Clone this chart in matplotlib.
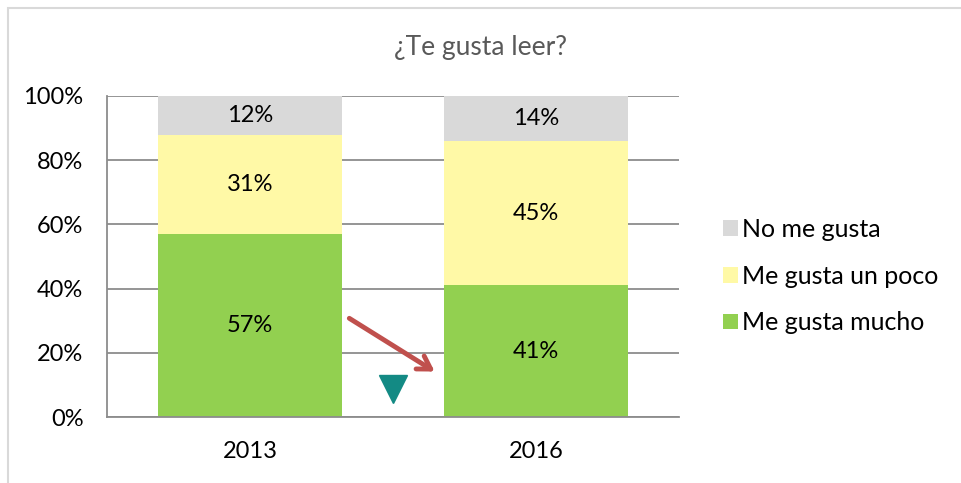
import matplotlib.pyplot as plt
from matplotlib.patches import Rectangle

plt.rcParams['font.family'] = ['Lato', 'DejaVu Sans']

years = ["2013", "2016"]
mucho = [57, 41]
poco = [31, 45]
no_gusta = [12, 14]
series_names = ["Me gusta mucho", "Me gusta un poco", "No me gusta"]
colors = ["#92D050", "#FFF9A6", "#D9D9D9"]

fig = plt.figure(figsize=(9.62, 4.83), dpi=100)
ax = fig.add_axes([107 / 962, 66 / 483, 572 / 962, 321 / 483])

# chart frame (cut off at right and bottom as in the source)
fig.patches.append(Rectangle((8 / 962, -0.05), 1.0, 1 - 8 / 483 + 0.05,
                             transform=fig.transFigure, fill=False,
                             edgecolor="#D9D9D9", linewidth=1.5))

x = range(len(years))
bottom = [0, 0]
for vals, name, col in zip([mucho, poco, no_gusta], series_names, colors):
    bars = ax.bar(x, vals, width=0.645, bottom=bottom, color=col, label=name, zorder=2)
    for xi, v, b in zip(x, vals, bottom):
        ax.text(xi, b + v / 2, f"{v}%", ha="center", va="center", fontsize=17, zorder=3)
    bottom = [b + v for b, v in zip(bottom, vals)]

ax.set_xlim(-0.5, 1.5)
ax.set_ylim(0, 100)
ax.set_yticks(range(0, 101, 20))
ax.set_yticklabels([f"{t}%" for t in range(0, 101, 20)], fontsize=17)
ax.set_xticks(list(x))
ax.set_xticklabels(years, fontsize=17)
ax.tick_params(length=0)
ax.tick_params(axis="x", pad=17)
ax.tick_params(axis="y", pad=17)
ax.yaxis.grid(True, color="#8C8C8C", linewidth=1.3, zorder=1)
ax.set_axisbelow(True)
for s in ["top", "right"]:
    ax.spines[s].set_visible(False)
for s in ["left", "bottom"]:
    ax.spines[s].set_color("#8C8C8C")
    ax.spines[s].set_linewidth(1.3)

fig.text(481 / 962, 1 - 47 / 483, "¿Te gusta leer?", ha="center", va="center",
         fontsize=19, color="#595959")

# decorations: trend arrow and down marker
ax.annotate("", xy=(0.654, 13.7), xytext=(0.339, 31.2),
            arrowprops=dict(arrowstyle="->,head_length=0.9,head_width=0.55",
                            color="#C0504D", lw=3.5), zorder=4)
ax.plot([0.5], [8.7], marker="v", markersize=20, color="#138A84",
        linestyle="none", zorder=4, clip_on=False)

handles, labels = ax.get_legend_handles_labels()
fig.legend(handles[::-1], labels[::-1], loc="center left",
           bbox_to_anchor=(700 / 962, 1 - 276 / 483), frameon=False,
           fontsize=18, handlelength=0.6, handleheight=0.6,
           handletextpad=0.2, labelspacing=0.95)

fig.savefig("out.png", dpi=100)
